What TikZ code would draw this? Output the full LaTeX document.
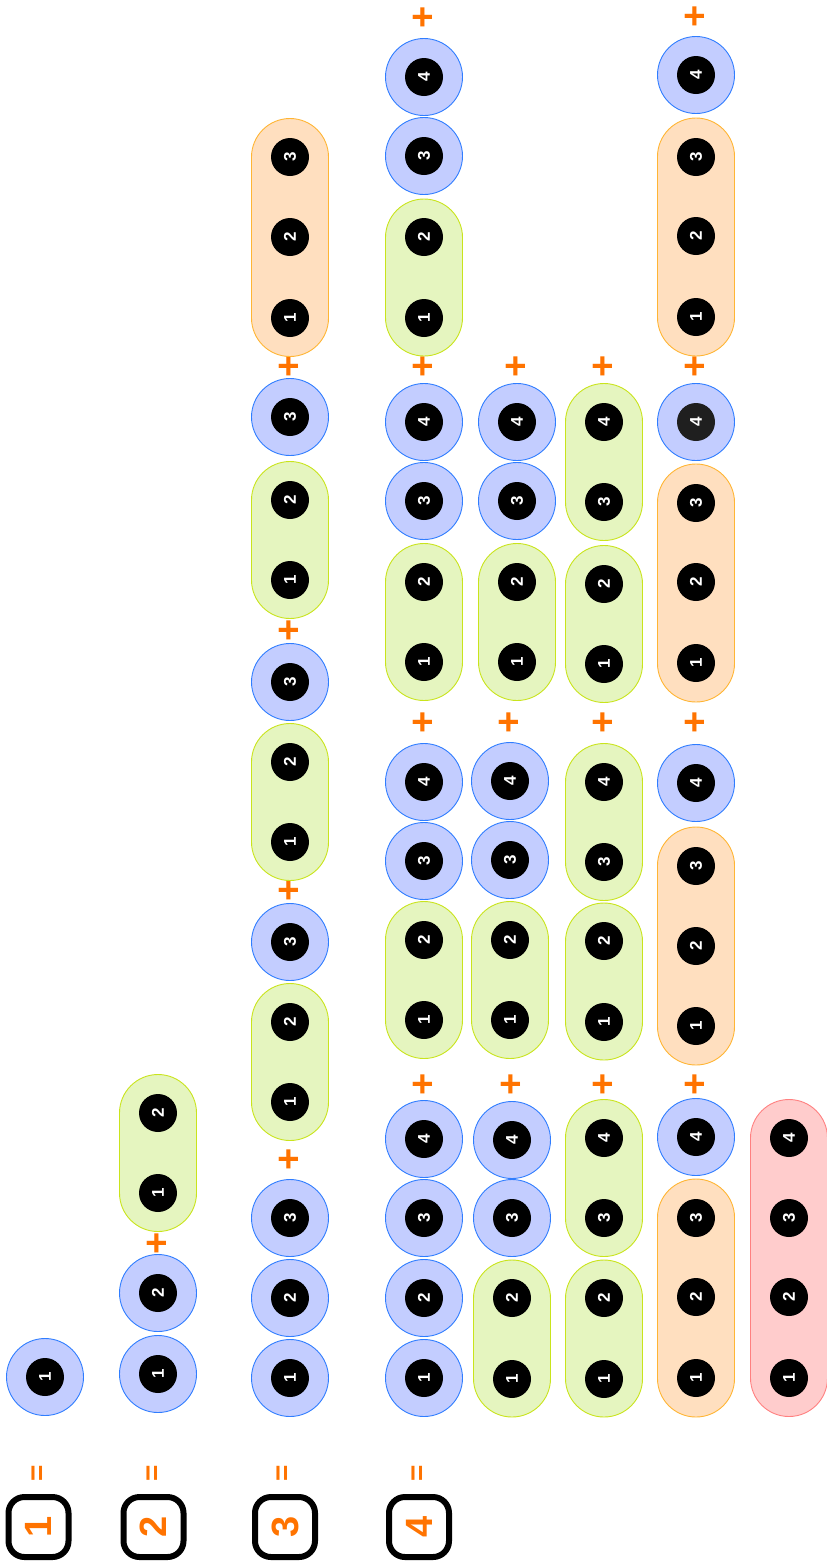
\documentclass[tikz,border=0pt]{standalone}
\usepackage{fontspec}
\setmainfont{Liberation Sans}
\usetikzlibrary{shapes.misc}
\definecolor{unfill}{HTML}{C3CDFF}
\definecolor{unline}{HTML}{2F7DFF}
\definecolor{duofill}{HTML}{E5F5BF}
\definecolor{duoline}{HTML}{C9E41C}
\definecolor{trifill}{HTML}{FFDFBF}
\definecolor{triline}{HTML}{FFB534}
\definecolor{quadfill}{HTML}{FFCCCC}
\definecolor{quadline}{HTML}{FF8080}
\definecolor{accent}{HTML}{FF7300}

\begin{document}
\begin{tikzpicture}[x=1pt, y=-1pt,
  one/.style={circle, draw=unline, fill=unfill, line width=0.9pt, minimum size=77pt, inner sep=0pt},
  pill/.style={rounded rectangle, rotate=90, line width=0.9pt, minimum height=77pt, inner sep=0pt},
  two/.style={pill, draw=duoline, fill=duofill, minimum width=157pt},
  three/.style={pill, draw=triline, fill=trifill, minimum width=238pt},
  four/.style={pill, draw=quadline, fill=quadfill, minimum width=317pt},
  dig/.style={circle, fill=black, minimum size=38pt, inner sep=0pt, text=white, font=\fontsize{17}{17}\selectfont\bfseries, rotate=90},
  plus/.style={text=accent, font=\fontsize{38}{38}\selectfont\bfseries, rotate=90, inner sep=0pt},
  eq/.style={text=accent, font=\fontsize{28}{28}\selectfont\bfseries, rotate=90, inner sep=0pt},
  total/.style={draw, line width=6pt, rounded corners=16pt, minimum size=60pt, inner sep=0pt, text=accent, font=\fontsize{38}{38}\selectfont\bfseries, rotate=90}
]
  \useasboundingbox (0,0) rectangle (827,1567);

  % --- n = 1 ---
  \node[total] (t1) at (38.5,1527) {1};
  \node[eq] (e1) at (39,1473) {=};
  \node[one] (a1) at (45,1377) {}; \node[dig] (a1n) at (a1) {1};

  % --- n = 2 ---
  \node[total] (t2) at (153.5,1527) {2};
  \node[eq] (e2) at (154,1473) {=};
  \node[one] (b1) at (158,1374) {}; \node[dig] (b1n) at (b1) {1};
  \node[one] (b2) at (158,1293) {}; \node[dig] (b2n) at (b2) {2};
  \node[plus] (b2p) at (158,1243) {+};
  \node[two] (b3) at (158,1153) {};
  \node[dig] (b3n1) at (158,1193) {1}; \node[dig] (b3n2) at (158,1113) {2};

  % --- n = 3 ---
  \node[total] (t3) at (285,1527) {3};
  \node[eq] (e3) at (284,1473) {=};
  \node[one] (c1) at (290,1378) {}; \node[dig] (c1n) at (c1) {1};
  \node[one] (c2) at (290,1298) {}; \node[dig] (c2n) at (c2) {2};
  \node[one] (c3) at (290,1218) {}; \node[dig] (c3n) at (c3) {3};
  \node[plus] (c3p) at (290,1159) {+};
  \node[two] (c4) at (290,1062) {};
  \node[dig] (c4n1) at (290,1102) {1}; \node[dig] (c4n2) at (290,1022) {2};
  \node[one] (c5) at (290,942) {}; \node[dig] (c5n) at (c5) {3};
  \node[plus] (c5p) at (290,890) {+};
  \node[two] (c6) at (290,802) {};
  \node[dig] (c6n1) at (290,842) {1}; \node[dig] (c6n2) at (290,762) {2};
  \node[one] (c7) at (290,682) {}; \node[dig] (c7n) at (c7) {3};
  \node[plus] (c7p) at (290,630) {+};
  \node[two] (c8) at (290,540) {};
  \node[dig] (c8n1) at (290,580) {1}; \node[dig] (c8n2) at (290,500) {2};
  \node[one] (c9) at (290,417) {}; \node[dig] (c9n) at (c9) {3};
  \node[plus] (c9p) at (290,366) {+};
  \node[three] (c10) at (290,237.5) {};
  \node[dig] (c10n1) at (290,318) {1}; \node[dig] (c10n2) at (290,237) {2}; \node[dig] (c10n3) at (290,157) {3};

  % --- n = 4 ---
  \node[total] (t4) at (419,1527) {4};
  \node[eq] (e4) at (419,1473) {=};

  % rangee a
  \node[one] (d1) at (424,1378) {}; \node[dig] (d1n) at (d1) {1};
  \node[one] (d2) at (424,1298) {}; \node[dig] (d2n) at (d2) {2};
  \node[one] (d3) at (424,1218) {}; \node[dig] (d3n) at (d3) {3};
  \node[one] (d4) at (424,1139) {}; \node[dig] (d4n) at (d4) {4};
  \node[plus] (d4p) at (424,1084) {+};
  \node[two] (d5) at (424,980) {};
  \node[dig] (d5n1) at (424,1020) {1}; \node[dig] (d5n2) at (424,940) {2};
  \node[one] (d6) at (424,861) {}; \node[dig] (d6n) at (d6) {3};
  \node[one] (d7) at (424,782) {}; \node[dig] (d7n) at (d7) {4};
  \node[plus] (d7p) at (424,722) {+};
  \node[two] (d8) at (424,622) {};
  \node[dig] (d8n1) at (424,662) {1}; \node[dig] (d8n2) at (424,582) {2};
  \node[one] (d9) at (424,501) {}; \node[dig] (d9n) at (d9) {3};
  \node[one] (d10) at (424,422) {}; \node[dig] (d10n) at (d10) {4};
  \node[plus] (d10p) at (424,366) {+};
  \node[two] (d11) at (424,277.5) {};
  \node[dig] (d11n1) at (424,318) {1}; \node[dig] (d11n2) at (424,237) {2};
  \node[one] (d12) at (424,156) {}; \node[dig] (d12n) at (d12) {3};
  \node[one] (d13) at (424,77) {}; \node[dig] (d13n) at (d13) {4};
  \node[plus] (d13p) at (424,17) {+};

  % rangee b
  \node[two] (f1) at (512,1338.5) {};
  \node[dig] (f1n1) at (512,1379) {1}; \node[dig] (f1n2) at (512,1298) {2};
  \node[one] (f2) at (512,1218) {}; \node[dig] (f2n) at (f2) {3};
  \node[one] (f3) at (512,1140) {}; \node[dig] (f3n) at (f3) {4};
  \node[plus] (f3p) at (512,1084) {+};
  \node[two] (f4) at (510,980) {};
  \node[dig] (f4n1) at (510,1020) {1}; \node[dig] (f4n2) at (510,940) {2};
  \node[one] (f5) at (510,860) {}; \node[dig] (f5n) at (f5) {3};
  \node[one] (f6) at (510,781) {}; \node[dig] (f6n) at (f6) {4};
  \node[plus] (f6p) at (510,722) {+};
  \node[two] (f7) at (517,622) {};
  \node[dig] (f7n1) at (517,662) {1}; \node[dig] (f7n2) at (517,582) {2};
  \node[one] (f8) at (517,501) {}; \node[dig] (f8n) at (f8) {3};
  \node[one] (f9) at (517,422) {}; \node[dig] (f9n) at (f9) {4};
  \node[plus] (f9p) at (517,366) {+};

  % rangee c
  \node[two] (g1) at (604,1338.5) {};
  \node[dig] (g1n1) at (604,1379) {1}; \node[dig] (g1n2) at (604,1298) {2};
  \node[two] (g2) at (604,1178) {};
  \node[dig] (g2n1) at (604,1218) {3}; \node[dig] (g2n2) at (604,1138) {4};
  \node[plus] (g2p) at (604,1084) {+};
  \node[two] (g3) at (604,981.5) {};
  \node[dig] (g3n1) at (604,1022) {1}; \node[dig] (g3n2) at (604,941) {2};
  \node[two] (g4) at (604,822) {};
  \node[dig] (g4n1) at (604,862) {3}; \node[dig] (g4n2) at (604,782) {4};
  \node[plus] (g4p) at (604,722) {+};
  \node[two] (g5) at (604,624) {};
  \node[dig] (g5n1) at (604,664) {1}; \node[dig] (g5n2) at (604,584) {2};
  \node[two] (g6) at (604,462) {};
  \node[dig] (g6n1) at (604,502) {3}; \node[dig] (g6n2) at (604,422) {4};
  \node[plus] (g6p) at (604,366) {+};

  % rangee d
  \node[three] (h1) at (696,1298) {};
  \node[dig] (h1n1) at (696,1378) {1}; \node[dig] (h1n2) at (696,1297) {2}; \node[dig] (h1n3) at (696,1218) {3};
  \node[one] (h2) at (696,1137) {}; \node[dig] (h2n) at (h2) {4};
  \node[plus] (h2p) at (696,1084) {+};
  \node[three] (h3) at (696,946) {};
  \node[dig] (h3n1) at (696,1026) {1}; \node[dig] (h3n2) at (696,946) {2}; \node[dig] (h3n3) at (696,866) {3};
  \node[one] (h4) at (696,783) {}; \node[dig] (h4n) at (h4) {4};
  \node[plus] (h4p) at (696,722) {+};
  \node[three] (h5) at (696,583) {};
  \node[dig] (h5n1) at (696,663) {1}; \node[dig] (h5n2) at (696,582) {2}; \node[dig] (h5n3) at (696,503) {3};
  \node[one] (h6) at (696,422) {}; \node[dig, fill=black!88] (h6n) at (h6) {4};
  \node[plus] (h6p) at (696,366) {+};
  \node[three] (h7) at (696,237) {};
  \node[dig] (h7n1) at (696,317) {1}; \node[dig] (h7n2) at (696,236) {2}; \node[dig] (h7n3) at (696,157) {3};
  \node[one] (h8) at (696,75) {}; \node[dig] (h8n) at (h8) {4};
  \node[plus] (h8p) at (696,16) {+};

  % rangee e
  \node[four] (k1) at (789,1258) {};
  \node[dig] (k1n1) at (789,1378) {1}; \node[dig] (k1n2) at (789,1297) {2};
  \node[dig] (k1n3) at (789,1218) {3}; \node[dig] (k1n4) at (789,1138) {4};
\end{tikzpicture}
\end{document}
